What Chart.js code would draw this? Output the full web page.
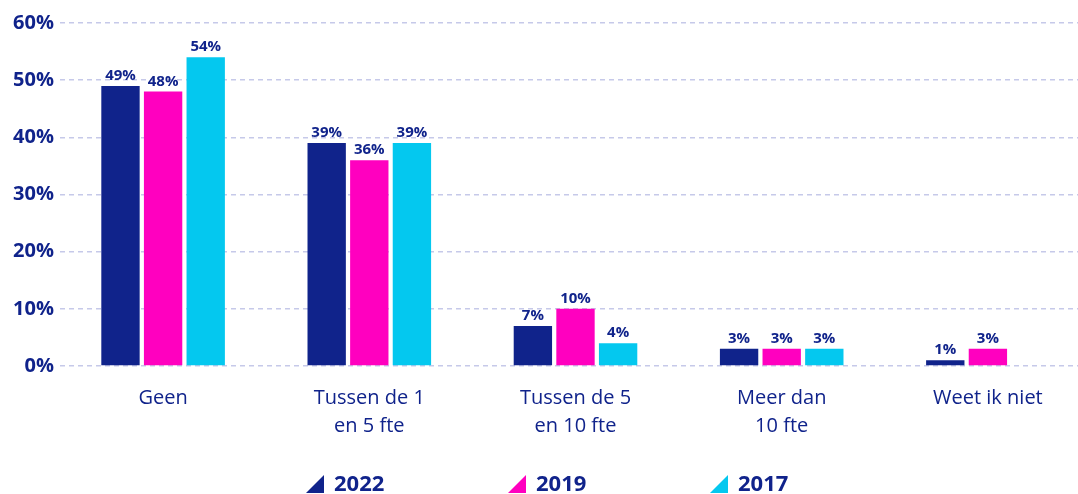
<!DOCTYPE html>
<html>
<head>
<meta charset="utf-8">
<script src="https://cdn.jsdelivr.net/npm/chart.js@4"></script>
<style>
  html, body { margin: 0; padding: 0; background: #fff; overflow: hidden; }
  #wrap { width: 1091px; height: 494px; position: relative; }
</style>
</head>
<body>
<div id="wrap"><canvas id="fteChart"></canvas></div>
<script>
const categories = [["Geen"], ["Tussen de 1", "en 5 fte"], ["Tussen de 5", "en 10 fte"], ["Meer dan", "10 fte"], ["Weet ik niet"]];
const seriesNames = ["2022", "2019", "2017"];
const values2022 = [49, 39, 7, 3, 1];
const values2019 = [48, 36, 10, 3, 3];
const values2017 = [54, 39, 4, 3, null];
const yTicks = [0, 10, 20, 30, 40, 50, 60];

const NAVY = "#10238b";
const colors = ["#10238b", "#ff00bf", "#04c8ef"];
const FONT = "'Open Sans', 'Noto Sans', sans-serif";

// values above bars
const barLabels = {
  id: "barLabels",
  afterDatasetsDraw(chart) {
    const ctx = chart.ctx;
    ctx.save();
    ctx.fillStyle = NAVY;
    ctx.font = "bold 15px " + FONT;
    ctx.textAlign = "center";
    ctx.textBaseline = "alphabetic";
    chart.data.datasets.forEach((ds, i) => {
      chart.getDatasetMeta(i).data.forEach((bar, j) => {
        if (ds.data[j] == null) return;
        ctx.fillText(ds.data[j] + "%", bar.x, bar.y - 6);
      });
    });
    ctx.restore();
  }
};

// triangle legend at the bottom
const triLegend = {
  id: "triLegend",
  afterDraw(chart) {
    const ctx = chart.ctx;
    const step = 202;
    const y = 484;
    const x = Math.round(chart.width / 2 - 240);
    ctx.save();
    ctx.font = "bold 22px " + FONT;
    ctx.textBaseline = "middle";
    chart.data.datasets.forEach((ds, i) => {
      const left = x + i * step;
      ctx.fillStyle = colors[i];
      ctx.beginPath();
      ctx.moveTo(left, y + 9);
      ctx.lineTo(left + 18, y - 9);
      ctx.lineTo(left + 18, y + 9);
      ctx.closePath();
      ctx.fill();
      ctx.fillStyle = NAVY;
      ctx.fillText(ds.label, left + 28, y + 1);
    });
    ctx.restore();
  }
};

const ctx = document.getElementById("fteChart").getContext("2d");
new Chart(ctx, {
  type: "bar",
  data: {
    labels: categories,
    datasets: [
      { label: seriesNames[0], data: values2022, backgroundColor: colors[0] },
      { label: seriesNames[1], data: values2019, backgroundColor: colors[1] },
      { label: seriesNames[2], data: values2017, backgroundColor: colors[2] }
    ]
  },
  options: {
    responsive: true,
    maintainAspectRatio: false,
    animation: false,
    categoryPercentage: 0.62,
    barPercentage: 0.9,
    layout: { padding: { top: 23, left: 0, right: 0, bottom: 40 } },
    plugins: {
      tooltip: { enabled: false },
      legend: { display: false }
    },
    scales: {
      x: {
        grid: { display: false },
        border: { display: false },
        ticks: {
          color: NAVY,
          font: { family: FONT, size: 20, lineHeight: 1.4 },
          padding: 10
        },
        afterFit: (axis) => { axis.height = 88; }
      },
      y: {
        min: 0,
        max: 60,
        afterBuildTicks: (axis) => { axis.ticks = yTicks.map(v => ({ value: v })); },
        grid: { color: "#c6c9e9", lineWidth: 1.5, drawTicks: false },
        border: { display: false, dash: [5, 4] },
        ticks: {
          color: NAVY,
          padding: 6,
          font: { family: FONT, size: 20, weight: "bold" },
          callback: (v) => v + "%"
        },
        afterFit: (axis) => { axis.width = 60; }
      }
    }
  },
  plugins: [barLabels, triLegend]
});
</script>
</body>
</html>
